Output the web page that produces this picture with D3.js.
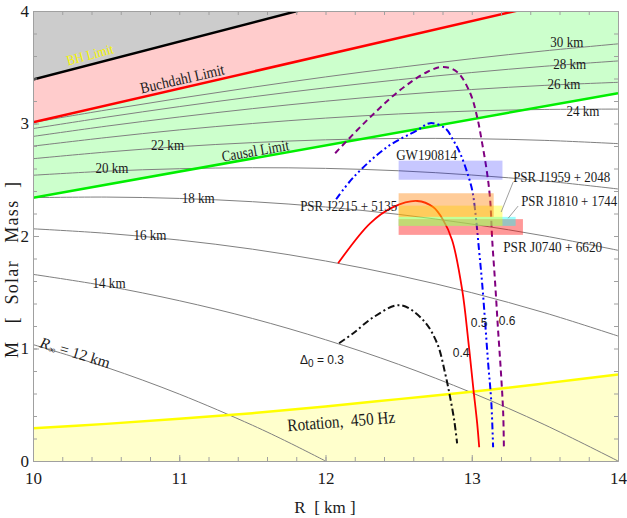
<!DOCTYPE html>
<html>
<head>
<meta charset="utf-8">
<script src="https://cdn.jsdelivr.net/npm/d3@7"></script>
<style>
  body { margin: 0; background: #fff; }
</style>
</head>
<body>
<div id="chart"></div>
<script>
// ---- data ----
// limit lines, [R km, M solar]
const bhLimit = [[10, 3.39], [14, 4.74]];
const buchdahlLimit = [[10, 3.01], [14, 4.21]];
const causalLimit = [[10, 2.34], [14, 3.27]];
const rotation450 = [[10, 0.29], [10.5, 0.33], [11, 0.375], [11.5, 0.425], [12, 0.485],
                     [12.5, 0.55], [13, 0.615], [13.5, 0.69], [14, 0.77]];

// constant R_inf contours
const rGrid = [10, 10.5, 11, 11.5, 12, 12.5, 13, 13.5, 14];
const r12Grid = [10, 10.5, 11, 11.5, 11.75, 12];
const m12 = [1.035, 0.833, 0.595, 0.318, 0.164, 0];
const m14 = [1.659, 1.556, 1.425, 1.267, 1.078, 0.859, 0.607, 0.321, 0];
const m16 = [2.064, 2.024, 1.964, 1.883, 1.778, 1.649, 1.496, 1.317, 1.111];
const m18 = [2.341, 2.346, 2.334, 2.305, 2.258, 2.192, 2.106, 2.000, 1.873];
const m20 = [2.540, 2.576, 2.598, 2.607, 2.601, 2.580, 2.542, 2.489, 2.418];
const m22 = [2.687, 2.746, 2.794, 2.830, 2.855, 2.867, 2.865, 2.850, 2.821];
const m24 = [2.799, 2.875, 2.943, 3.000, 3.048, 3.085, 3.111, 3.125, 3.128];
const m26 = [2.885, 2.976, 3.058, 3.132, 3.198, 3.255, 3.302, 3.339, 3.366];
const m28 = [2.955, 3.056, 3.150, 3.237, 3.317, 3.389, 3.453, 3.509, 3.556];
const m30 = [3.010, 3.120, 3.224, 3.322, 3.414, 3.498, 3.576, 3.646, 3.708];

// Delta_0 curves
const delta03 = [[12.093, 1.047], [12.19, 1.136], [12.33, 1.28], [12.51, 1.385], [12.668, 1.252],
                 [12.763, 1.047], [12.818, 0.78], [12.852, 0.567], [12.88, 0.362], [12.90, 0.157]];
const delta04 = [[12.086, 1.757], [12.305, 2.113], [12.462, 2.257], [12.627, 2.311], [12.736, 2.257],
                 [12.805, 2.141], [12.866, 1.963], [12.935, 1.518], [12.976, 1.073], [13.010, 0.655],
                 [13.037, 0.336], [13.051, 0.122]];
const delta05 = [[12.073, 2.327], [12.19, 2.52], [12.42, 2.79], [12.627, 2.94], [12.715, 3.003],
                 [12.818, 2.958], [12.873, 2.853], [12.92, 2.737], [12.968, 2.568], [13.003, 2.408],
                 [13.023, 2.229], [13.05, 1.873], [13.071, 1.581], [13.092, 1.225], [13.112, 0.870],
                 [13.133, 0.540], [13.146, 0.122]];
const delta06 = [[12.066, 2.736], [12.285, 3.03], [12.51, 3.297], [12.695, 3.458], [12.804, 3.503],
                 [12.90, 3.458], [12.989, 3.271], [13.037, 3.057], [13.071, 2.826], [13.105, 2.559],
                 [13.126, 2.319], [13.14, 1.963], [13.16, 1.581], [13.18, 1.163], [13.20, 0.780],
                 [13.215, 0.424], [13.22, 0.094]];

// observed masses (drawn in this order)
const obsNames = ["PSR J0740 + 6620", "PSR J1810 + 1744", "PSR J1959 + 2048", "PSR J2215 + 5135", "GW190814"];
const obsRmin = [12.5, 12.5, 12.5, 12.5, 12.5];
const obsRmax = [13.35, 13.30, 13.21, 13.15, 13.21];
const obsMlo = [2.01, 2.09, 2.09, 2.17, 2.50];
const obsMhi = [2.15, 2.17, 2.27, 2.38, 2.67];

const xMajor = [10, 11, 12, 13, 14];
const yMajor = [0, 1, 2, 3, 4];

// ---- layout ----
const W = 627, H = 518;
const serif = "Liberation Serif, serif";
const sans = "Liberation Sans, Arial, sans-serif";
const x = d3.scaleLinear().domain([10, 14]).range([33, 618]);
const y = d3.scaleLinear().domain([0, 4]).range([461, 11]);

const svg = d3.select("#chart").append("svg")
  .attr("width", W).attr("height", H)
  .attr("font-family", serif);

svg.append("clipPath").attr("id", "plot")
  .append("rect").attr("x", x(10)).attr("y", y(4))
  .attr("width", x(14) - x(10)).attr("height", y(0) - y(4));

const g = svg.append("g").attr("clip-path", "url(#plot)");

const above = d3.area().x(d => x(d[0])).y0(y(4)).y1(d => y(d[1]));
const below = d3.area().x(d => x(d[0])).y0(y(0)).y1(d => y(d[1])).curve(d3.curveMonotoneX);
const line = d3.line().x(d => x(d[0])).y(d => y(d[1]));
const smooth = d3.line().x(d => x(d[0])).y(d => y(d[1])).curve(d3.curveCatmullRom.alpha(0.5));

// shaded regions
g.append("path").attr("d", above(causalLimit)).attr("fill", "#ccffcc");
g.append("path").attr("d", above(buchdahlLimit)).attr("fill", "#ffcccc");
g.append("path").attr("d", above(bhLimit)).attr("fill", "#cccccc");
g.append("path").attr("d", below(rotation450)).attr("fill", "#ffffcc");

// contours
const contours = [m14, m16, m18, m20, m22, m24, m26, m28, m30].map(m => rGrid.map((r, i) => [r, m[i]]));
contours.push(r12Grid.map((r, i) => [r, m12[i]]));
g.selectAll(".contour").data(contours).enter().append("path")
  .attr("class", "contour")
  .attr("d", smooth)
  .attr("fill", "none").attr("stroke", "#808080").attr("stroke-width", 1);

// limit lines
g.append("path").attr("d", line(causalLimit)).attr("stroke", "#00ee00").attr("stroke-width", 2.5).attr("fill", "none");
g.append("path").attr("d", line(buchdahlLimit)).attr("stroke", "#ff0000").attr("stroke-width", 2.5).attr("fill", "none");
g.append("path").attr("d", line(bhLimit)).attr("stroke", "#000").attr("stroke-width", 2.5).attr("fill", "none");
g.append("path").attr("d", smooth(rotation450)).attr("stroke", "#ffff00").attr("stroke-width", 2.5).attr("fill", "none");

// delta curves
g.append("path").attr("d", smooth(delta03)).attr("fill", "none")
  .attr("stroke", "#111").attr("stroke-width", 2).attr("stroke-dasharray", "7,3,2,3");
g.append("path").attr("d", smooth(delta04)).attr("fill", "none")
  .attr("stroke", "#ff0000").attr("stroke-width", 1.8);
g.append("path").attr("d", smooth(delta05)).attr("fill", "none")
  .attr("stroke", "#0000ff").attr("stroke-width", 2).attr("stroke-dasharray", "7,3,2,3,2,3");
g.append("path").attr("d", smooth(delta06)).attr("fill", "none")
  .attr("stroke", "#800080").attr("stroke-width", 2).attr("stroke-dasharray", "6,4");

// mass boxes
const boxColors = ["#ff0000", "#00ffff", "#ffff00", "#ff8000", "#0000ff"];
const boxOpacity = [0.4, 0.4, 0.4, 0.4, 0.22];
g.selectAll(".box").data(obsNames).enter().append("rect")
  .attr("class", "box")
  .attr("x", (d, i) => x(obsRmin[i]))
  .attr("y", (d, i) => y(obsMhi[i]))
  .attr("width", (d, i) => x(obsRmax[i]) - x(obsRmin[i]))
  .attr("height", (d, i) => y(obsMlo[i]) - y(obsMhi[i]))
  .attr("fill", (d, i) => boxColors[i])
  .attr("fill-opacity", (d, i) => boxOpacity[i]);

// leader lines
svg.append("line").attr("x1", x(13.283)).attr("y1", y(2.479)).attr("x2", x(13.201)).attr("y2", y(2.213))
  .attr("stroke", "#888").attr("stroke-width", 0.8);
svg.append("line").attr("x1", x(13.317)).attr("y1", y(2.266)).attr("x2", x(13.249)).attr("y2", y(2.158))
  .attr("stroke", "#888").attr("stroke-width", 0.8);

// ---- labels ----
function label(r, m, txt, opts) {
  opts = opts || {};
  const t = svg.append("text")
    .attr("transform", "translate(" + x(r) + "," + y(m) + ") rotate(" + (opts.rot || 0) + ")")
    .attr("text-anchor", opts.anchor || "middle")
    .attr("dominant-baseline", "central")
    .attr("font-family", opts.font || serif)
    .attr("font-size", (opts.size || 14) + "px")
    .attr("fill", opts.fill || "#1a1a1a")
    .style("white-space", "pre")
    .text(txt);
  if (opts.len) t.attr("textLength", opts.len).attr("lengthAdjust", "spacingAndGlyphs");
  return t;
}

const contourLabels = [["30 km", 13.65, 3.73], ["28 km", 13.67, 3.53], ["26 km", 13.63, 3.36],
                       ["24 km", 13.76, 3.12], ["22 km", 10.92, 2.81], ["20 km", 10.54, 2.61],
                       ["18 km", 11.13, 2.34], ["16 km", 10.80, 2.01], ["14 km", 10.52, 1.59]];
contourLabels.forEach(c => label(c[1], c[2], c[0], { size: 15.5, len: 33 }));

const r12 = svg.append("text")
  .attr("transform", "translate(" + x(10.29) + "," + y(0.97) + ") rotate(17)")
  .attr("text-anchor", "middle").attr("dominant-baseline", "central")
  .attr("font-size", "15.5px").attr("fill", "#1a1a1a")
  .style("white-space", "pre");
r12.append("tspan").attr("font-style", "italic").text("R");
r12.append("tspan").attr("font-size", "10px").attr("font-style", "italic").attr("dy", 4).text("∞");
r12.append("tspan").attr("dy", -4).text(" = 12 km");

label(10.39, 3.61, "BH Limit", { rot: -15, size: 14, fill: "#f5f500", len: 48 });
label(11.02, 3.40, "Buchdahl Limit", { rot: -13, size: 15.5, len: 86 });
label(11.52, 2.76, "Causal Limit", { rot: -10, size: 15.5, len: 68 });
label(12.107, 0.355, "Rotation,  450 Hz", { rot: -4.5, size: 17.5, len: 108 });

label(12.483, 2.718, "GW190814", { anchor: "start", size: 15, len: 61 });
label(12.49, 2.266, "PSR J2215 + 5135", { anchor: "end", size: 14, len: 97 });
label(13.283, 2.524, "PSR J1959 + 2048", { anchor: "start", size: 14, len: 97 });
label(13.338, 2.31, "PSR J1810 + 1744", { anchor: "start", size: 14, len: 96 });
label(13.215, 1.899, "PSR J0740 + 6620", { anchor: "start", size: 14, len: 99 });

const d03 = svg.append("text")
  .attr("x", x(11.826)).attr("y", y(0.896))
  .attr("dominant-baseline", "central")
  .attr("font-family", sans)
  .attr("font-size", "12px").attr("fill", "#1a1a1a")
  .style("white-space", "pre");
d03.append("tspan").text("Δ");
d03.append("tspan").attr("font-size", "10px").attr("dy", 3).text("0");
d03.append("tspan").attr("dy", -3).text(" = 0.3");

[["0.4", 12.927, 0.957], ["0.5", 13.05, 1.224], ["0.6", 13.242, 1.243]].forEach(c => {
  label(c[1], c[2], c[0], { size: 12, font: sans });
});

// ---- axes ----
const minor = d3.range(0, 21).map(i => 10 + i * 0.2);
const minorY = d3.range(0, 21).map(i => i * 0.2);

function styleAxis(sel) {
  sel.attr("font-family", serif).attr("font-size", 17);
  sel.selectAll(".domain").attr("stroke", "#a0a0a0");
  sel.selectAll(".tick line").attr("stroke", "#a0a0a0");
  sel.selectAll("text").attr("fill", "#1a1a1a");
}

svg.append("g").attr("transform", "translate(0," + y(0) + ")")
  .call(d3.axisBottom(x).tickValues(minor).tickSize(-4).tickSizeOuter(0).tickFormat(""))
  .call(styleAxis);
svg.append("g").attr("transform", "translate(0," + y(0) + ")")
  .call(d3.axisBottom(x).tickValues(xMajor).tickSize(-6).tickSizeOuter(0).tickPadding(11).tickFormat(d3.format("d")))
  .call(styleAxis);
svg.append("g").attr("transform", "translate(0," + y(4) + ")")
  .call(d3.axisTop(x).tickValues(minor).tickSize(-4).tickSizeOuter(0).tickFormat(""))
  .call(styleAxis);
svg.append("g").attr("transform", "translate(" + x(10) + ",0)")
  .call(d3.axisLeft(y).tickValues(minorY).tickSize(-4).tickSizeOuter(0).tickFormat(""))
  .call(styleAxis);
svg.append("g").attr("transform", "translate(" + x(10) + ",0)")
  .call(d3.axisLeft(y).tickValues(yMajor).tickSize(-6).tickSizeOuter(0).tickPadding(4).tickFormat(d3.format("d")))
  .call(styleAxis);
svg.append("g").attr("transform", "translate(" + x(14) + ",0)")
  .call(d3.axisRight(y).tickValues(minorY).tickSize(-4).tickSizeOuter(0).tickFormat(""))
  .call(styleAxis);

// axis titles
svg.append("text").attr("x", 325).attr("y", 507)
  .attr("text-anchor", "middle").attr("dominant-baseline", "central")
  .attr("font-size", "17px").attr("fill", "#1a1a1a").style("white-space", "pre")
  .text("R  [ km ]");
svg.append("text").attr("transform", "translate(12,270) rotate(-90)")
  .attr("text-anchor", "middle").attr("dominant-baseline", "central")
  .attr("font-size", "18px").attr("fill", "#1a1a1a").style("white-space", "pre")
  .attr("textLength", 176).attr("lengthAdjust", "spacing")
  .text("M   [  Solar   Mass  ]");
</script>
</body>
</html>
